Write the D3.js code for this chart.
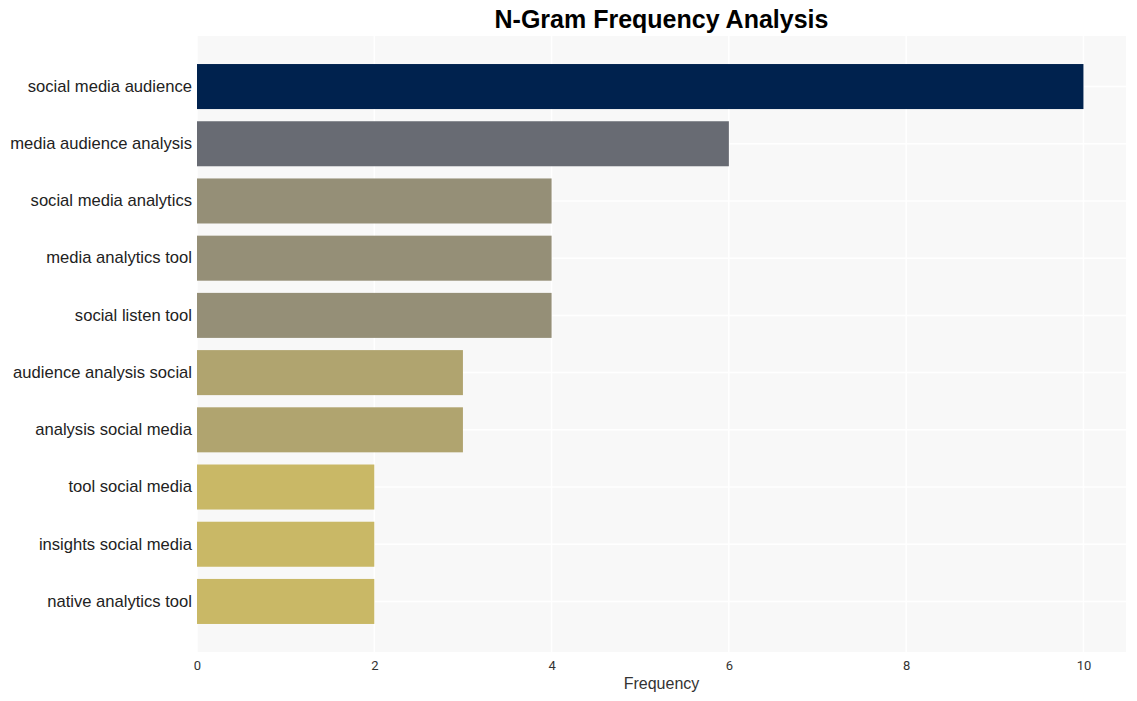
<!DOCTYPE html>
<html>
<head>
<meta charset="utf-8">
<script src="https://cdn.jsdelivr.net/npm/d3@7"></script>
<style>
  body { margin: 0; background: #fff; }
  svg { display: block; font-family: "Liberation Sans", Arial, sans-serif; }
</style>
</head>
<body>
<svg id="chart" width="1137" height="701"></svg>
<script>
const categories = [
  "social media audience",
  "media audience analysis",
  "social media analytics",
  "media analytics tool",
  "social listen tool",
  "audience analysis social",
  "analysis social media",
  "tool social media",
  "insights social media",
  "native analytics tool"
];
const values = [10, 6, 4, 4, 4, 3, 3, 2, 2, 2];
const xTicks = [0, 2, 4, 6, 8, 10];
const colorByValue = { 10: "#00224e", 6: "#686b73", 4: "#958f77", 3: "#b0a46f", 2: "#c9b866" };

const svg = d3.select("#chart");
const plotLeft = 197, plotRight = 1126, plotTop = 36, plotBottom = 652;

const x = d3.scaleLinear().domain([0, 10.48]).range([plotLeft, plotRight]);
const y = d3.scaleBand().domain(categories).range([plotTop, plotBottom]).paddingInner(0.213).paddingOuter(0.49);

svg.append("rect").attr("x", plotLeft).attr("y", plotTop).attr("width", plotRight - plotLeft).attr("height", plotBottom - plotTop).attr("fill", "#f8f8f8");

svg.append("g").selectAll("line").data(xTicks).join("line")
  .attr("x1", d => x(d)).attr("x2", d => x(d)).attr("y1", plotTop).attr("y2", plotBottom)
  .attr("stroke", "#ffffff").attr("stroke-width", 1.5);
svg.append("g").selectAll("line").data(categories).join("line")
  .attr("x1", plotLeft).attr("x2", plotRight)
  .attr("y1", d => y(d) + y.bandwidth() / 2).attr("y2", d => y(d) + y.bandwidth() / 2)
  .attr("stroke", "#ffffff").attr("stroke-width", 1.5);

svg.append("g").selectAll("rect").data(categories).join("rect")
  .attr("x", x(0)).attr("y", d => y(d))
  .attr("width", (d, i) => x(values[i]) - x(0)).attr("height", y.bandwidth())
  .attr("fill", (d, i) => colorByValue[values[i]]);

const xAxis = svg.append("g").attr("transform", `translate(0,${plotBottom})`)
  .call(d3.axisBottom(x).tickValues(xTicks).tickSize(0).tickPadding(9).tickFormat(d3.format("d")));
xAxis.select(".domain").remove();
xAxis.selectAll("text").attr("font-size", 13).attr("fill", "#333").attr("font-family", "Roboto, 'Liberation Sans', Arial, sans-serif");

const yAxis = svg.append("g").attr("transform", `translate(${plotLeft},0)`)
  .call(d3.axisLeft(y).tickSize(0).tickPadding(5));
yAxis.select(".domain").remove();
yAxis.selectAll("text").attr("font-size", 16.6).attr("fill", "#222").attr("font-family", "'Liberation Sans', Arial, sans-serif");

svg.append("text").attr("x", (plotLeft + plotRight) / 2).attr("y", 689).attr("text-anchor", "middle")
  .attr("font-size", 16).attr("fill", "#333").attr("font-family", "'Liberation Sans', Arial, sans-serif").text("Frequency");

svg.append("text").attr("x", (plotLeft + plotRight) / 2).attr("y", 28).attr("text-anchor", "middle")
  .attr("font-size", 25).attr("font-weight", "bold").attr("fill", "#000").text("N-Gram Frequency Analysis");
</script>
</body>
</html>
